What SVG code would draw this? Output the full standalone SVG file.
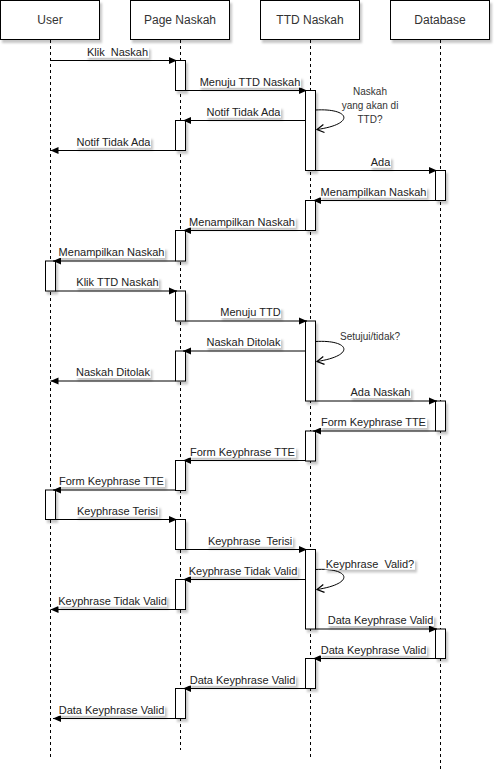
<svg xmlns="http://www.w3.org/2000/svg" width="502" height="782" viewBox="0 0 502 782">
<style>
.hdr{fill:#fff;stroke:#000;stroke-width:1;filter:url(#sh)}
.ht{font-family:"Liberation Sans",Arial,sans-serif;font-size:12px;fill:#333;text-anchor:middle}
.life{stroke:#000;stroke-width:1;stroke-dasharray:3 3;fill:none}
.act{fill:#fff;stroke:#000;stroke-width:1;filter:url(#sh)}
.msg{stroke:#000;stroke-width:1;fill:none;marker-end:url(#blk)}
.self{stroke:#000;stroke-width:1;fill:none;marker-end:url(#opn)}
.lb{fill:#fff;stroke:none;filter:url(#sh)}
.lt{font-family:"Liberation Sans",Arial,sans-serif;font-size:11px;fill:#222;text-anchor:middle;white-space:pre}
.st{font-family:"Liberation Sans",Arial,sans-serif;font-size:10px;fill:#333;text-anchor:middle;white-space:pre}
</style>
<defs>
<filter id="sh" x="-20%" y="-50%" width="160%" height="250%">
<feDropShadow dx="2" dy="3" stdDeviation="1" flood-color="#000" flood-opacity="0.22"/>
</filter>
<marker id="blk" markerUnits="userSpaceOnUse" markerWidth="9" markerHeight="8" refX="8" refY="4" orient="auto">
<path d="M0,0.5 L8,4 L0,7.5 z" fill="#000"/>
</marker>
<marker id="opn" markerUnits="userSpaceOnUse" markerWidth="9" markerHeight="10" refX="8" refY="5" orient="auto">
<path d="M1,1 L8,5 L1,9" fill="none" stroke="#000" stroke-width="1.2"/>
</marker>
</defs>
<rect width="502" height="782" fill="#fff"/>

<g id="user">
<rect class="hdr" x="0.5" y="0.5" width="99" height="39"/>
<text class="ht" x="50" y="24">User</text>
<line class="life" x1="50.5" y1="40" x2="50.5" y2="757"/>
<rect class="act" x="45.5" y="261" width="10" height="30"/>
<rect class="act" x="45.5" y="490" width="10" height="29.5"/>
</g>

<g id="page-naskah">
<rect class="hdr" x="130.5" y="0.5" width="99" height="39"/>
<text class="ht" x="180" y="24">Page Naskah</text>
<line class="life" x1="180.5" y1="40" x2="180.5" y2="750"/>
<rect class="act" x="175.5" y="60.5" width="10" height="30"/>
<rect class="act" x="175.5" y="120.5" width="10" height="30"/>
<rect class="act" x="175.5" y="230.5" width="10" height="30.5"/>
<rect class="act" x="175.5" y="291" width="10" height="30"/>
<rect class="act" x="175.5" y="351" width="10" height="30"/>
<rect class="act" x="175.5" y="460.5" width="10" height="30"/>
<rect class="act" x="175.5" y="519.5" width="10" height="30"/>
<rect class="act" x="175.5" y="579.5" width="10" height="30"/>
<rect class="act" x="175.5" y="688.5" width="10" height="30"/>
</g>

<g id="ttd-naskah">
<rect class="hdr" x="260.5" y="0.5" width="99" height="39"/>
<text class="ht" x="310" y="24">TTD Naskah</text>
<line class="life" x1="310.5" y1="40" x2="310.5" y2="757"/>
<rect class="act" x="305.5" y="90.5" width="10" height="80"/>
<rect class="act" x="305.5" y="200.5" width="10" height="30"/>
<rect class="act" x="305.5" y="321" width="10" height="80"/>
<rect class="act" x="305.5" y="431" width="10" height="30"/>
<rect class="act" x="305.5" y="549.5" width="10" height="79.5"/>
<rect class="act" x="305.5" y="658.5" width="10" height="30"/>
</g>

<g id="database">
<rect class="hdr" x="390.5" y="0.5" width="99" height="39"/>
<text class="ht" x="440" y="24">Database</text>
<line class="life" x1="440.5" y1="40" x2="440.5" y2="770"/>
<rect class="act" x="435.5" y="170.5" width="10" height="30"/>
<rect class="act" x="435.5" y="401" width="10" height="30"/>
<rect class="act" x="435.5" y="629" width="10" height="29.5"/>
</g>

<g id="connectors">
<line class="msg" x1="50.5" y1="60.5" x2="177" y2="60.5"/>
<line class="msg" x1="185.5" y1="90.5" x2="307" y2="90.5"/>
<line class="msg" x1="305.5" y1="120.5" x2="183" y2="120.5"/>
<line class="msg" x1="175.5" y1="150.5" x2="50.5" y2="150.5"/>
<line class="msg" x1="315.5" y1="170.5" x2="437" y2="170.5"/>
<line class="msg" x1="435.5" y1="200.5" x2="313" y2="200.5"/>
<line class="msg" x1="305.5" y1="230.5" x2="183" y2="230.5"/>
<line class="msg" x1="175.5" y1="261" x2="53" y2="261"/>
<line class="msg" x1="55.5" y1="291" x2="177" y2="291"/>
<line class="msg" x1="185.5" y1="321" x2="307" y2="321"/>
<line class="msg" x1="305.5" y1="351" x2="183" y2="351"/>
<line class="msg" x1="175.5" y1="381" x2="50.5" y2="381"/>
<line class="msg" x1="315.5" y1="401" x2="437" y2="401"/>
<line class="msg" x1="435.5" y1="431" x2="313" y2="431"/>
<line class="msg" x1="305.5" y1="460.5" x2="183" y2="460.5"/>
<line class="msg" x1="175.5" y1="490" x2="53" y2="490"/>
<line class="msg" x1="55.5" y1="519.5" x2="177" y2="519.5"/>
<line class="msg" x1="185.5" y1="549.5" x2="307" y2="549.5"/>
<line class="msg" x1="305.5" y1="579.5" x2="183" y2="579.5"/>
<line class="msg" x1="175.5" y1="609.5" x2="50.5" y2="609.5"/>
<line class="msg" x1="315.5" y1="629" x2="437" y2="629"/>
<line class="msg" x1="435.5" y1="658.5" x2="313" y2="658.5"/>
<line class="msg" x1="305.5" y1="688.5" x2="183" y2="688.5"/>
<line class="msg" x1="175.5" y1="718.5" x2="53" y2="718.5"/>
<path class="self" d="M315.5,110 C350,108 356,124 317,129.5"/>
<path class="self" d="M315.5,341.5 C350,339.5 356,355.5 317,361.5"/>
<path class="self" d="M315.5,569.5 C350,567.5 356,583.5 317,589.5"/>
</g>

<g id="labels">
<rect class="lb" x="86" y="46.5" width="63" height="11"/><text class="lt" x="117.5" y="55.5">Klik  Naskah</text>
<rect class="lb" x="199" y="76.5" width="102" height="11"/><text class="lt" x="250" y="85.5">Menuju TTD Naskah</text>
<rect class="lb" x="206" y="106.5" width="75" height="11"/><text class="lt" x="243.5" y="115.5">Notif Tidak Ada</text>
<rect class="lb" x="76" y="136.5" width="75" height="11"/><text class="lt" x="113.5" y="145.5">Notif Tidak Ada</text>
<rect class="lb" x="370" y="156.5" width="21" height="11"/><text class="lt" x="380.5" y="165.5">Ada</text>
<rect class="lb" x="320" y="186.5" width="107" height="11"/><text class="lt" x="373.5" y="195.5">Menampilkan Naskah</text>
<rect class="lb" x="188.5" y="216.5" width="107" height="11"/><text class="lt" x="242" y="225.5">Menampilkan Naskah</text>
<rect class="lb" x="58" y="247" width="107" height="11"/><text class="lt" x="111.5" y="256">Menampilkan Naskah</text>
<rect class="lb" x="76" y="277" width="83" height="11"/><text class="lt" x="117.5" y="286">Klik TTD Naskah</text>
<rect class="lb" x="220" y="307" width="61" height="11"/><text class="lt" x="250.5" y="316">Menuju TTD</text>
<rect class="lb" x="206" y="337" width="75" height="11"/><text class="lt" x="243.5" y="346">Naskah Ditolak</text>
<rect class="lb" x="75.5" y="367" width="75" height="11"/><text class="lt" x="113" y="376">Naskah Ditolak</text>
<rect class="lb" x="350" y="387" width="61" height="11"/><text class="lt" x="380.5" y="396">Ada Naskah</text>
<rect class="lb" x="320" y="417" width="107" height="11"/><text class="lt" x="373.5" y="426">Form Keyphrase TTE</text>
<rect class="lb" x="189" y="446.5" width="107" height="11"/><text class="lt" x="242.5" y="455.5">Form Keyphrase TTE</text>
<rect class="lb" x="58" y="476" width="107" height="11"/><text class="lt" x="111.5" y="485">Form Keyphrase TTE</text>
<rect class="lb" x="76" y="505.5" width="83" height="11"/><text class="lt" x="117.5" y="514.5">Keyphrase Terisi</text>
<rect class="lb" x="207" y="535.5" width="86" height="11"/><text class="lt" x="250" y="544.5">Keyphrase  Terisi</text>
<rect class="lb" x="188.5" y="565.5" width="109" height="11"/><text class="lt" x="243" y="574.5">Keyphrase Tidak Valid</text>
<rect class="lb" x="58" y="595.5" width="109" height="11"/><text class="lt" x="112.5" y="604.5">Keyphrase Tidak Valid</text>
<rect class="lb" x="327" y="615" width="107" height="11"/><text class="lt" x="380.5" y="624">Data Keyphrase Valid</text>
<rect class="lb" x="320" y="644.5" width="107" height="11"/><text class="lt" x="373.5" y="653.5">Data Keyphrase Valid</text>
<rect class="lb" x="189" y="674.5" width="107" height="11"/><text class="lt" x="242.5" y="683.5">Data Keyphrase Valid</text>
<rect class="lb" x="58" y="704.5" width="107" height="11"/><text class="lt" x="111.5" y="713.5">Data Keyphrase Valid</text>
<text class="st" x="370" y="95">Naskah</text>
<text class="st" x="370" y="109">yang akan di</text>
<text class="st" x="370" y="123">TTD?</text>
<text class="st" x="370" y="340">Setujui/tidak?</text>
<rect class="lb" x="325" y="558.5" width="90" height="11"/><text class="lt" x="370" y="567.5">Keyphrase  Valid?</text>
</g>
</svg>
